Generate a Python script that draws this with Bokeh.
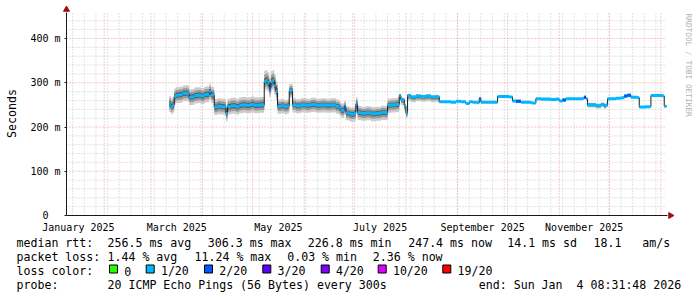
from datetime import datetime, timedelta
import math
import numpy as np
from bokeh.plotting import figure
from bokeh.models import Range1d, LinearAxis, FixedTicker, ColumnDataSource
from bokeh.core.properties import value
from bokeh.embed import file_html
from bokeh.resources import INLINE

# ---------------- data ----------------
end_time = datetime(2026, 1, 4, 8, 31, 48)
start_time = end_time - timedelta(days=360)

dates = [
    "2025-03-12", "2025-03-13", "2025-03-14", "2025-03-15", "2025-03-16", "2025-03-18",
    "2025-03-20", "2025-03-22", "2025-03-23", "2025-03-24", "2025-03-25", "2025-03-27",
    "2025-03-29", "2025-03-31", "2025-04-02", "2025-04-03", "2025-04-05", "2025-04-06",
    "2025-04-07", "2025-04-08", "2025-04-10", "2025-04-12", "2025-04-14", "2025-04-15",
    "2025-04-16", "2025-04-18", "2025-04-21", "2025-04-23", "2025-04-25", "2025-04-27",
    "2025-04-30", "2025-05-02", "2025-05-05", "2025-05-07", "2025-05-08", "2025-05-09",
    "2025-05-10", "2025-05-11", "2025-05-12", "2025-05-13", "2025-05-14", "2025-05-15",
    "2025-05-16", "2025-05-18", "2025-05-20", "2025-05-22", "2025-05-23", "2025-05-24",
    "2025-05-25", "2025-05-27", "2025-05-30", "2025-06-02", "2025-06-05", "2025-06-08",
    "2025-06-11", "2025-06-14", "2025-06-17", "2025-06-20", "2025-06-22", "2025-06-23",
    "2025-06-25", "2025-06-26", "2025-06-28", "2025-06-29", "2025-07-01", "2025-07-02",
    "2025-07-03", "2025-07-05", "2025-07-08", "2025-07-11", "2025-07-14", "2025-07-17",
    "2025-07-20", "2025-07-21", "2025-07-23", "2025-07-26", "2025-07-27", "2025-07-28",
    "2025-07-29", "2025-07-31", "2025-08-01", "2025-08-02", "2025-08-04", "2025-08-07",
    "2025-08-10", "2025-08-13", "2025-08-16", "2025-08-19", "2025-08-20", "2025-08-21",
    "2025-08-25", "2025-08-28", "2025-08-31", "2025-09-03", "2025-09-06", "2025-09-08",
    "2025-09-10", "2025-09-13", "2025-09-14", "2025-09-15", "2025-09-19", "2025-09-22",
    "2025-09-24", "2025-09-25", "2025-09-29", "2025-10-02", "2025-10-04", "2025-10-06",
    "2025-10-09", "2025-10-12", "2025-10-15", "2025-10-16", "2025-10-18", "2025-10-21",
    "2025-10-24", "2025-10-27", "2025-10-30", "2025-11-01", "2025-11-03", "2025-11-05",
    "2025-11-09", "2025-11-13", "2025-11-15", "2025-11-16", "2025-11-17", "2025-11-18",
    "2025-11-21", "2025-11-23", "2025-11-26", "2025-11-28", "2025-11-29", "2025-11-30",
    "2025-12-03", "2025-12-05", "2025-12-08", "2025-12-10", "2025-12-12", "2025-12-14",
    "2025-12-16", "2025-12-18", "2025-12-19", "2025-12-21", "2025-12-23", "2025-12-25",
    "2025-12-26", "2025-12-29", "2025-12-31", "2026-01-02", "2026-01-03",
]
median_rtt_ms = [
    252, 247, 250, 269, 272, 273,
    276, 277, 275, 267, 268, 271,
    272, 270, 273, 274, 280, 273,
    272, 245, 247, 246, 245, 231,
    246, 248, 246, 249, 250, 249,
    251, 249, 250, 250, 303, 305,
    300, 287, 302, 305, 294, 280,
    247, 248, 246, 248, 282, 283,
    250, 248, 250, 249, 251, 249,
    250, 249, 250, 247, 243, 238,
    245, 232, 230, 229, 231, 252,
    233, 231, 232, 230, 231, 233,
    232, 249, 250, 251, 251, 271,
    262, 248, 232, 271, 268, 270,
    269, 270, 268, 269, 268, 257,
    257, 256, 258, 257, 253, 257,
    256, 255, 264, 256, 256, 256,
    256, 269, 269, 268, 259, 258,
    256, 256, 255, 254, 264, 263,
    263, 262, 263, 259, 261, 264,
    264, 264, 265, 267, 264, 250,
    250, 248, 251, 247, 250, 264,
    264, 265, 266, 270, 272, 267,
    267, 266, 245, 245, 246, 246,
    271, 271, 271, 270, 247,
]
# loss bucket index into loss_labels / loss_colors
loss_bucket = [
    1, 1, 1, 1, 1, 1,
    1, 1, 1, 1, 1, 1,
    1, 1, 1, 1, 1, 1,
    1, 1, 1, 1, 1, 1,
    1, 1, 1, 1, 1, 1,
    1, 1, 1, 1, 1, 1,
    1, 2, 1, 1, 1, 1,
    1, 1, 1, 1, 1, 1,
    1, 1, 1, 1, 1, 1,
    1, 1, 1, 1, 1, 1,
    2, 1, 1, 1, 1, 1,
    1, 1, 1, 1, 1, 1,
    1, 1, 1, 1, 1, 1,
    1, 1, 1, 1, 1, 1,
    1, 1, 1, 1, 1, 1,
    1, 1, 1, 1, 1, 1,
    1, 1, 2, 1, 1, 1,
    1, 1, 1, 1, 1, 2,
    1, 1, 1, 1, 1, 1,
    1, 1, 1, 1, 2, 1,
    1, 1, 1, 3, 1, 1,
    1, 1, 1, 1, 1, 1,
    1, 1, 1, 2, 2, 1,
    1, 1, 1, 1, 1, 1,
    1, 1, 1, 1, 1,
]

# smoke (spread of the pings around the median), by period
smoke_from = ["2025-03-12", "2025-05-08", "2025-05-16", "2025-07-28", "2025-08-21", "2025-11-18", "2025-11-30"]
smoke_up_ms = [18, 24, 15, 4, 1, 5, 1]
smoke_down_ms = [18, 20, 17, 12, 2, 6, 2]

loss_labels = ["0", "1/20", "2/20", "3/20", "4/20", "10/20", "19/20"]
loss_colors = ["#26ff00", "#00b8ff", "#0059ff", "#5e00ff", "#7e00ff", "#dd00ff", "#ff0000"]

y_ticks = [0, 100, 200, 300, 400]
y_tick_labels = ["0\u00a0\u00a0", "100 m", "200 m", "300 m", "400 m"]
month_label_months = [(2025, 1), (2025, 3), (2025, 5), (2025, 7), (2025, 9), (2025, 11)]
month_labels = ["January 2025", "March 2025", "May 2025", "July 2025", "September 2025", "November 2025"]

rtt_stats = ["256.5 ms avg", "306.3 ms max", "226.8 ms min", "247.4 ms now", "14.1 ms sd", "18.1\u00a0\u00a0\u00a0am/s"]
loss_stats = ["1.44 % avg", "11.24 % max", "0.03 % min", "2.36 % now"]
probe_text = "20 ICMP Echo Pings (56 Bytes) every 300s"
end_text = "end: Sun Jan\u00a0\u00a04 08:31:48 2026"

# ---------------- helpers ----------------
EPOCH = datetime(1970, 1, 1)


def to_ms(dt):
    return (dt - EPOCH).total_seconds() * 1000.0


def parse(d):
    return datetime.strptime(d, "%Y-%m-%d")


W, H = 697, 297
FL, FR, FT, FB = 66, 666, 12, 215          # graph area in canvas px
T0, T1 = to_ms(start_time), to_ms(end_time)
MS_PER_PX = (T1 - T0) / (FR - FL)
PX_PER_UNIT = 0.4425                        # px per ms of rtt


def X(px):
    return T0 + (px - FL) * MS_PER_PX


def Y(py):
    return (FB - py) / PX_PER_UNIT


Y_TOP = Y(FT)

t = np.array([to_ms(parse(d)) for d in dates])
rtt = np.array(median_rtt_ms, dtype=float)
t_ext = np.append(t, T1)
rtt_ext = np.append(rtt, rtt[-1])

sm_t = np.array([to_ms(parse(d)) for d in smoke_from])
idx = np.searchsorted(sm_t, t, side="right") - 1
up = np.array(smoke_up_ms, dtype=float)[idx]
down = np.array(smoke_down_ms, dtype=float)[idx]
up_ext = np.append(up, up[-1])
down_ext = np.append(down, down[-1])

p = figure(width=W, height=H, output_backend="svg", toolbar_location=None, title=None,
           x_axis_type=None, y_axis_type=None,
           x_range=Range1d(X(0), X(W)), y_range=Range1d(Y(H), Y(0)),
           min_border_left=0, min_border_right=0, min_border_top=0, min_border_bottom=0)
p.background_fill_color = "white"
p.border_fill_color = "white"
p.outline_line_color = None
p.xgrid.visible = False
p.ygrid.visible = False

# ---------- grids (dotted) ----------
weekly = []
d = datetime(2025, 1, 13)
while d < end_time:
    if d > start_time:
        weekly.append(to_ms(d))
    d += timedelta(days=7)
monthly = []
yy, mm = 2025, 2
while datetime(yy, mm, 1) < end_time:
    monthly.append(to_ms(datetime(yy, mm, 1)))
    mm += 1
    if mm > 12:
        yy, mm = yy + 1, 1
minor_y = [v for v in range(20, int(Y_TOP) + 1, 20) if v % 100 != 0]
major_y = [100, 200, 300, 400]

GRID_C = "#c0c0c0"
MGRID_C = "#e88a8a"
for xs, col in [(weekly, GRID_C), (monthly, MGRID_C)]:
    p.segment(x0=xs, y0=[0] * len(xs), x1=xs, y1=[Y_TOP] * len(xs),
              line_color=col, line_dash="1 2", line_width=1, line_alpha=0.85)
for ys, col in [(minor_y, GRID_C), (major_y, MGRID_C)]:
    p.segment(x0=[T0] * len(ys), y0=ys, x1=[T1] * len(ys), y1=ys,
              line_color=col, line_dash="1 2", line_width=1, line_alpha=0.85)

# ---------- smoke ----------
for f, c in [(1.0, "#cccccc"), (0.65, "#999999"), (0.33, "#5e5e5e")]:
    p.varea_step(x=t_ext, y1=rtt_ext - f * down_ext, y2=rtt_ext + f * up_ext,
                 step_mode="after", fill_color=c)

# ---------- median ----------
p.step(x=t_ext, y=rtt_ext, mode="after", line_color="#1a1a1a", line_width=1)
BAND = 3.4
p.varea_step(x=t_ext, y1=rtt_ext - BAND, y2=rtt_ext + BAND, step_mode="after",
             fill_color=loss_colors[1])
t_end = t_ext[1:]
sel = [i for i, b in enumerate(loss_bucket) if b != 1]
p.quad(left=t[sel], right=t_end[sel], bottom=rtt[sel] - BAND, top=rtt[sel] + BAND,
       fill_color=[loss_colors[loss_bucket[i]] for i in sel], line_color=None)

# ---------- axes (fixed at the graph origin) ----------
AX_C = "#1a1a1a"
yaxis = LinearAxis(ticker=FixedTicker(ticks=y_ticks), fixed_location=T0, bounds=(0, Y_TOP),
                   major_label_overrides=dict(zip(y_ticks, y_tick_labels)),
                   axis_line_color=AX_C, major_tick_line_color=AX_C,
                   major_tick_out=2, major_tick_in=0, minor_tick_out=0, minor_tick_in=0,
                   major_label_standoff=4,
                   major_label_text_font="DejaVu Sans Mono",
                   major_label_text_font_size="10px", major_label_text_color="#000000")
p.add_layout(yaxis, "left")


def mid_month(y, m):
    a = datetime(y, m, 1)
    b = datetime(y + (m == 12), m % 12 + 1, 1)
    return to_ms(a + (b - a) / 2)


x_label_ticks = [mid_month(y, m) for (y, m) in month_label_months]
xaxis = LinearAxis(ticker=FixedTicker(ticks=x_label_ticks), fixed_location=0, bounds=(T0, X(FR + 1)),
                   major_label_overrides=dict(zip(x_label_ticks, month_labels)),
                   axis_line_color=AX_C, major_tick_out=0, major_tick_in=0,
                   minor_tick_out=0, minor_tick_in=0, major_label_standoff=6,
                   major_label_text_font="DejaVu Sans Mono",
                   major_label_text_font_size="10px", major_label_text_color="#000000")
p.add_layout(xaxis, "below")

# axis arrow heads
ARROW_C = "#a01010"
p.scatter(x=[T0], y=[Y(FT - 3)], marker="triangle", size=6, fill_color=ARROW_C, line_color=ARROW_C)
p.scatter(x=[X(FR + 4)], y=[0], marker="triangle", angle=-math.pi / 2, size=6,
          fill_color=ARROW_C, line_color=ARROW_C)

# ---------- texts ----------
MONO = value("DejaVu Sans Mono")
row_y = [242.5, 256.5, 270.5, 284.5]
items = [(16, row_y[0], "median rtt:")]
items += list(zip([107, 207.3, 307.3, 407.7, 506.7, 593], [row_y[0]] * 6, rtt_stats))
items += [(16, row_y[1], "packet loss:")]
items += list(zip([107, 194, 286.7, 372.3], [row_y[1]] * 4, loss_stats))
items += [(16, row_y[2], "loss color:")]
box_x = [109, 145.7, 204, 262.3, 320.7, 377.7, 442.3]
items += [(bx + 14.7, row_y[2], lab) for bx, lab in zip(box_x, loss_labels)]
items += [(16, row_y[3], "probe:"), (107, row_y[3], probe_text), (478.3, row_y[3], end_text)]

src = ColumnDataSource(dict(x=[X(a) for a, _, _ in items], y=[Y(b) for _, b, _ in items],
                            text=[s for _, _, s in items]))
p.text(x="x", y="y", text="text", source=src, text_font=MONO, text_font_size=value("11.6px"),
       text_color="#000000", text_align="left", text_baseline="alphabetic")

p.quad(left=[X(bx) for bx in box_x], right=[X(bx + 8) for bx in box_x],
       top=[Y(264.5)] * len(box_x), bottom=[Y(272.5)] * len(box_x),
       fill_color=loss_colors, line_color="black", line_width=1)

p.text(x=[X(11)], y=[Y(113)], text=["Seconds"], angle=math.pi / 2, text_font=MONO,
       text_font_size=value("11.6px"), text_color="#000000", text_align="center",
       text_baseline="middle")
p.text(x=[X(688)], y=[Y(13)], text=["RRDTOOL / TOBI OETIKER"], angle=-math.pi / 2, text_font=MONO,
       text_font_size=value("7.8px"), text_color="#b0b0b0", text_align="left",
       text_baseline="middle")

open("out.html", "w").write(file_html(p, INLINE))
